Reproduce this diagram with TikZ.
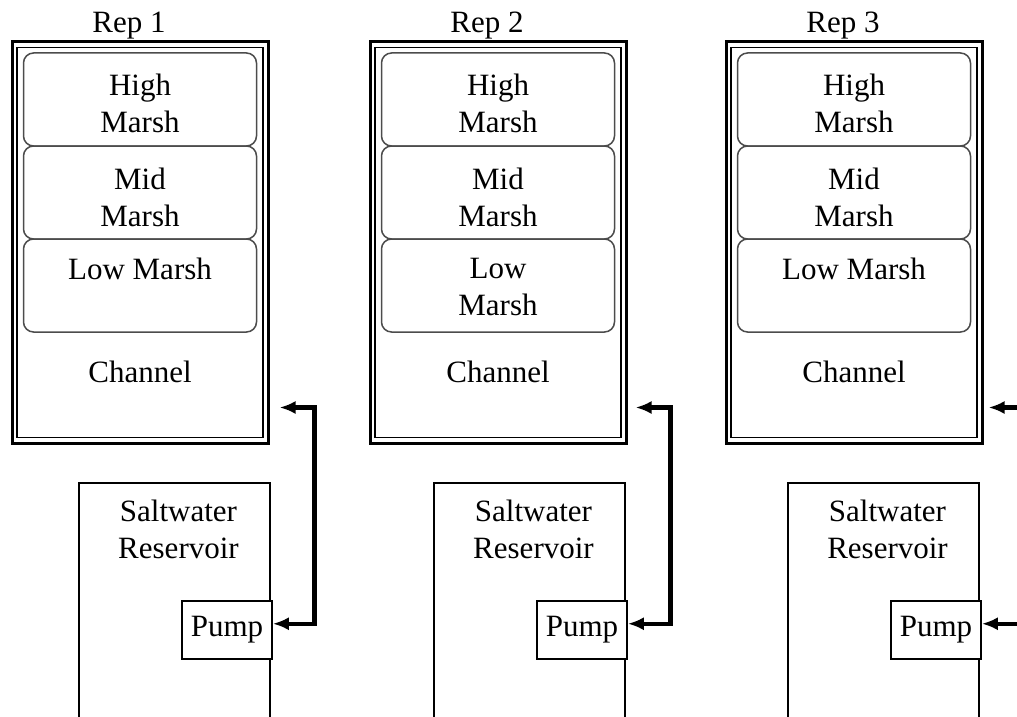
\documentclass[tikz,border=0pt]{standalone}
\usepackage{fontspec}
\setmainfont{Liberation Serif}
\usetikzlibrary{arrows.meta, positioning}

\begin{document}
\begin{tikzpicture}[x=1pt, y=-1pt, font=\fontsize{31}{37}\selectfont]
\tikzstyle{tank} = [rectangle, draw=black, line width=3pt, minimum width=256pt, minimum height=401pt]
\tikzstyle{tankwall} = [rectangle, draw=black, line width=1.5pt, minimum width=246pt, minimum height=390pt]
\tikzstyle{marsh} = [rectangle, rounded corners=10pt, draw=black!70, line width=1.5pt, fill=white, minimum width=233pt, minimum height=93pt, outer sep=0pt]
\tikzstyle{reservoir} = [rectangle, draw=black, line width=1.5pt, minimum width=191pt, minimum height=260pt]
\tikzstyle{pumpbox} = [rectangle, draw=black, line width=1.5pt, fill=white, minimum width=90pt, minimum height=58pt, inner sep=2pt]
\tikzstyle{lbl} = [inner sep=0pt, align=center]
\tikzstyle{line} = [draw, line width=4.5pt, >={Latex[length=16pt,width=13pt]}]

\useasboundingbox (0,0) rectangle (1017,717);
\clip (0,0) rectangle (1017,717);

\foreach \n/\tx/\rx/\low in {1/0/0/{Low Marsh}, 2/358/355/{Low\\Marsh}, 3/714/709/{Low Marsh}} {
  % tank with double wall
  \node (tank\n) [tank] at (140+\tx, 242.5) {};
  \node (wall\n) [tankwall] at (tank\n.center) {};
  \node (rep\n) [lbl, above=1pt of tank\n.north, xshift=-11pt] {Rep \n};
  % marsh zones
  \node (high\n) [marsh, below=12.5pt of tank\n.north] {};
  \node (mid\n) [marsh, below=0pt of high\n] {};
  \node (low\n) [marsh, below=0pt of mid\n] {};
  \node (hightxt\n) [lbl, below=21pt of high\n.north] {High\\Marsh};
  \node (midtxt\n) [lbl, below=22pt of mid\n.north] {Mid\\Marsh};
  \node (lowtxt\n) [lbl, below=19pt of low\n.north] {\low};
  \node (chan\n) [lbl, below=29pt of low\n.south] {Channel};
  % reservoir and pump
  \node (res\n) [reservoir, anchor=north] at (174.5+\rx, 482) {};
  \node (restxt\n) [lbl, below=18pt of res\n.north, xshift=4pt] {Saltwater\\Reservoir};
  \node (pump\n) [pumpbox, anchor=north east] at ([shift={(2pt,-118pt)}]res\n.north east) {Pump};
}

\path [line, <->] ([shift={(10pt,37pt)}]tank1.south east) -- ++(35pt,0) |- ([yshift=6pt]pump1.east);
\path [line, <->] ([shift={(8pt,37pt)}]tank2.south east) -- ++(35pt,0) |- ([yshift=6pt]pump2.east);
\path [line, <-] ([shift={(5pt,37pt)}]tank3.south east) -- ++(60pt,0);
\path [line, <-] ([yshift=6pt]pump3.east) -- ++(60pt,0);

\end{tikzpicture}
\end{document}
